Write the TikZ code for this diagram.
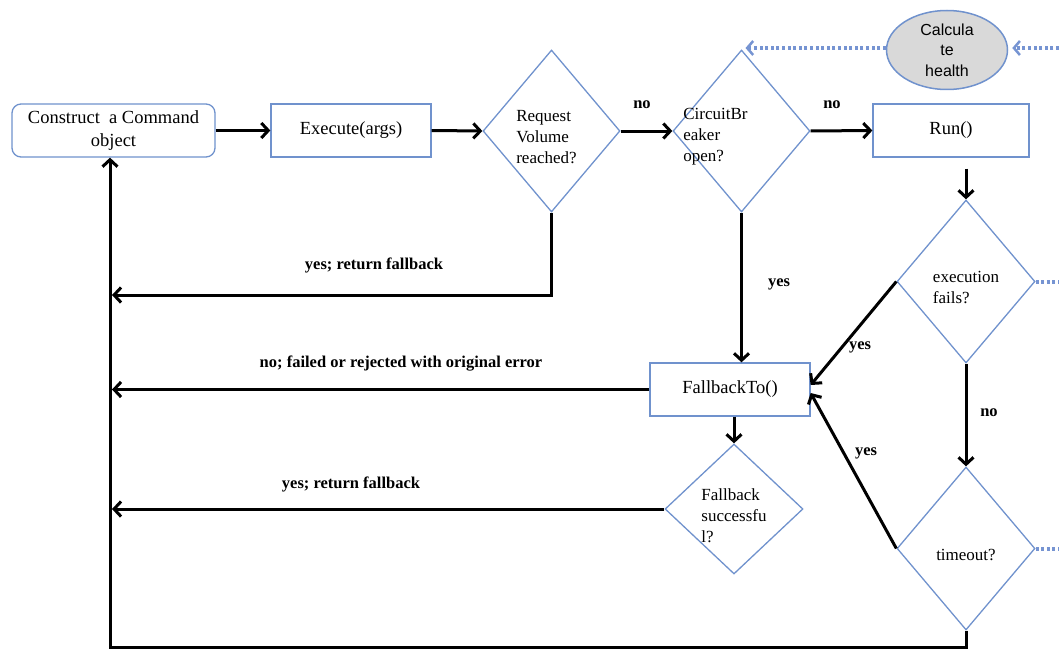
\documentclass[tikz,border=0pt]{standalone}
\usepackage{fontspec}
\setmainfont{Liberation Serif}
\newfontfamily\arialfont{Liberation Sans}
\usetikzlibrary{shapes.geometric,arrows.meta}
\definecolor{shapeblue}{RGB}{112,146,205}
\definecolor{dotblue}{RGB}{118,148,210}
\definecolor{healthgrey}{RGB}{217,217,217}

\begin{document}
\begin{tikzpicture}[x=1pt,y=-1pt,
  box/.style={draw=shapeblue,line width=1.3pt,fill=white,inner sep=0pt,
    font=\fontsize{18.5}{22.5}\selectfont,align=center},
  decision/.style={diamond,draw=shapeblue,line width=1.3pt,inner sep=0pt},
  qtext/.style={font=\fontsize{17}{21}\selectfont,align=left,inner sep=0pt},
  flow/.style={line width=3pt,-{Straight Barb[length=7pt,width=15pt]}},
  tag/.style={font=\bfseries\fontsize{16.5}{19}\selectfont,inner sep=0pt},
  probe/.style={dotblue,line width=4pt,dash pattern=on 3pt off 2.6pt},
  probetip/.style={-{Straight Barb[length=6pt,width=14pt,line width=2.5pt]}}
]
\useasboundingbox (0,0) rectangle (1059,650);

% process boxes
\node[box,rounded corners=9pt,minimum width=203pt,minimum height=53pt] (cons) at (113.5,130.5) {Construct\ \ a Command\\object};
\node[box,minimum width=160pt,minimum height=53pt] (exec) at (351,130.5) {Execute(args)};
\node[box,minimum width=156pt,minimum height=53pt] (run) at (951,130.5) {Run()};
\node[box,minimum width=160pt,minimum height=53pt] (fb) at (730,389.5) {FallbackTo()};

% decisions
\node[decision,minimum width=137pt,minimum height=162pt] (vol) at (551.5,131) {};
\node[decision,minimum width=137pt,minimum height=162pt] (cb) at (741.5,131) {};
\node[decision,minimum width=138pt,minimum height=163pt] (fail) at (966,281.5) {};
\node[decision,minimum width=138pt,minimum height=163pt] (tmo) at (966,548.5) {};
\node[decision,minimum width=138pt,minimum height=130pt] (ok) at (734,509) {};

\node[qtext] (voltext) at ([xshift=-5pt,yshift=-6pt]vol.center) {Request\\Volume\\reached?};
\node[qtext] (cbtext) at ([xshift=-26pt,yshift=-6pt]cb.center) {CircuitBr\\eaker\\open?};
\node[qtext] (failtext) at ([yshift=-6pt]fail.center) {execution\\fails?};
\node[qtext] (tmotext) at ([yshift=-6pt]tmo.center) {timeout?};
\node[qtext] (oktext) at ([yshift=-7pt]ok.center) {Fallback\\successfu\\l?};

% health calculation
\node[ellipse,draw=shapeblue,line width=1.5pt,fill=healthgrey,minimum width=121pt,minimum height=79pt,
  inner sep=0pt,align=center,font=\arialfont\fontsize{16}{20.5}\selectfont] (health) at (947,50) {Calcula\\te\\health};

% free ends of connectors
\coordinate (r1) at (112,295);
\coordinate (r2) at (112,389.5);
\coordinate (r3) at (112,509);
\coordinate (corner) at (110,647);
\coordinate (edgeA) at (1059,48);
\coordinate (edgeB) at (1059,281.5);
\coordinate (edgeC) at (1059,548.5);

% main flow
\draw[flow] (cons.east) -- (exec.west);
\draw[flow] (exec.east) -- (vol.west);
\draw[flow] (vol.east) -- (cb.west);
\draw[flow] (cb.east) -- (run.west);
\draw[flow,shorten <=11pt] (fail.north |- run.south) -- (fail.north);
\draw[flow] (cb.south) -- (cb.south |- fb.north);
\draw[flow] (fail.west) -- ([yshift=4.5pt]fb.east);
\draw[flow] (fail.south) -- (tmo.north);
\draw[flow] (tmo.west) -- ([yshift=-3.5pt]fb.east);
\draw[flow] (fb.south -| ok.north) -- (ok.north);

% returns to the caller
\draw[flow] (vol.south) |- (r1);
\draw[flow] (fb.west) -- (r2);
\draw[flow] (ok.west) -- (r3);
\draw[flow] (tmo.south) |- (corner) -- (corner |- cons.south);

% health metrics
\draw[probe,probetip,shorten >=4pt] (edgeA) -- (edgeA -| health.east);
\draw[probe,probetip,shorten >=4pt] (health.west |- edgeA) -- (edgeA -| cb.north);
\draw[probe] (fail.east) -- (edgeB);
\draw[probe] (tmo.east) -- (edgeC);

% branch labels
\node[tag] (l1) at (642,105) {no};
\node[tag] (l2) at (832,105) {no};
\node[tag] (l3) at (374,265) {yes; return fallback};
\node[tag] (l4) at (779,284) {yes};
\node[tag] (l5) at (860,347) {yes};
\node[tag] (l6) at (401,364) {no; failed or rejected with original error};
\node[tag] (l7) at (989,413) {no};
\node[tag] (l8) at (866,453) {yes};
\node[tag] (l9) at (351,484) {yes; return fallback};
\end{tikzpicture}
\end{document}
